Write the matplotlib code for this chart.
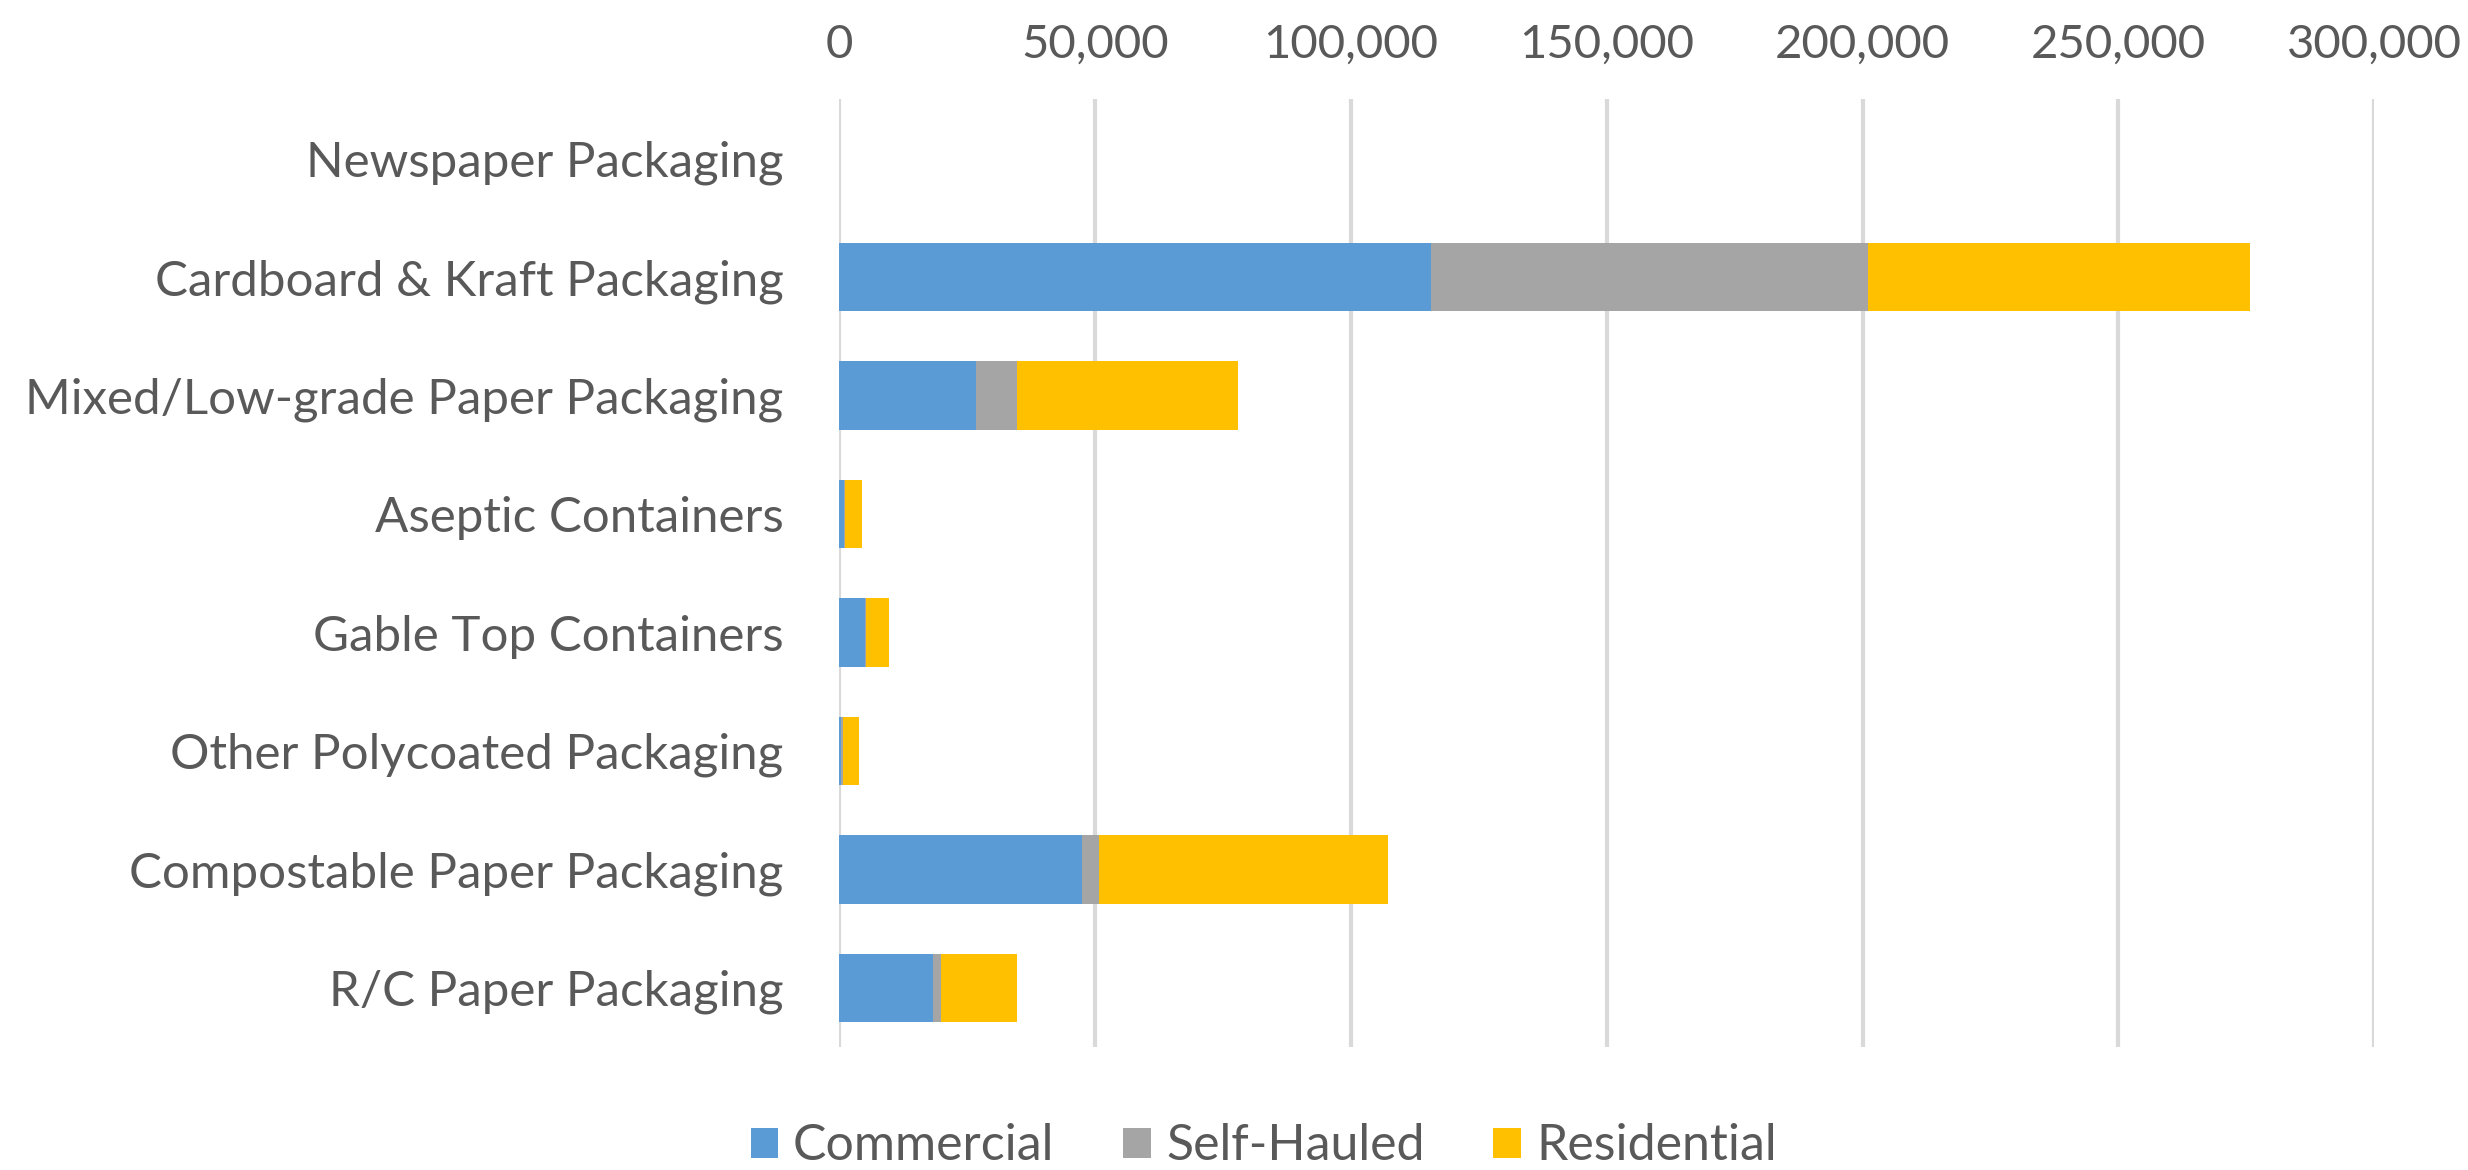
import matplotlib.pyplot as plt
from matplotlib.ticker import FuncFormatter

plt.rcParams['font.family'] = ['Lato', 'DejaVu Sans']

# 資料
categories = ['Newspaper Packaging', 'Cardboard & Kraft Packaging',
              'Mixed/Low-grade Paper Packaging', 'Aseptic Containers',
              'Gable Top Containers', 'Other Polycoated Packaging',
              'Compostable Paper Packaging', 'R/C Paper Packaging']
commercial = [0, 115600, 26800, 1000, 5000, 300, 47400, 18300]
self_hauled = [0, 85400, 8000, 100, 300, 500, 3300, 1700]
residential = [0, 74800, 43100, 3450, 4400, 3170, 56500, 14800]
series_names = ['Commercial', 'Self-Hauled', 'Residential']
colors = ['#5B9BD5', '#A5A5A5', '#FFC000']

fig = plt.figure(figsize=(24.68, 11.70), dpi=100)
ax = fig.add_axes([0.340, 0.105, 0.622, 0.810])

y = list(range(len(categories)))
left = [0] * len(categories)
for vals, name, c in zip([commercial, self_hauled, residential], series_names, colors):
    ax.barh(y, vals, left=left, height=0.58, color=c, label=name, zorder=3)
    left = [a + b for a, b in zip(left, vals)]

ax.set_xlim(0, 300000)
ax.set_ylim(7.5, -0.5)
ax.set_xticks(range(0, 300001, 50000))
ax.xaxis.set_major_formatter(FuncFormatter(lambda v, p: '{:,.0f}'.format(v)))
ax.xaxis.tick_top()
ax.set_yticks(y)
ax.set_yticklabels(categories)
ax.tick_params(axis='both', length=0, labelcolor='#595959')
ax.tick_params(axis='y', labelsize=35.5, pad=40)
ax.tick_params(axis='x', labelsize=34, pad=24)
ax.grid(axis='x', color='#D9D9D9', linewidth=3, zorder=0)
for s in ax.spines.values():
    s.set_visible(False)

fig.legend(loc='lower center', bbox_to_anchor=(0.512, -0.038), ncol=3, frameon=False,
           fontsize=36, labelcolor='#595959', handlelength=0.55, handleheight=0.55,
           columnspacing=1.38, handletextpad=0.3)

fig.savefig('out.png', dpi=100, facecolor='white')
